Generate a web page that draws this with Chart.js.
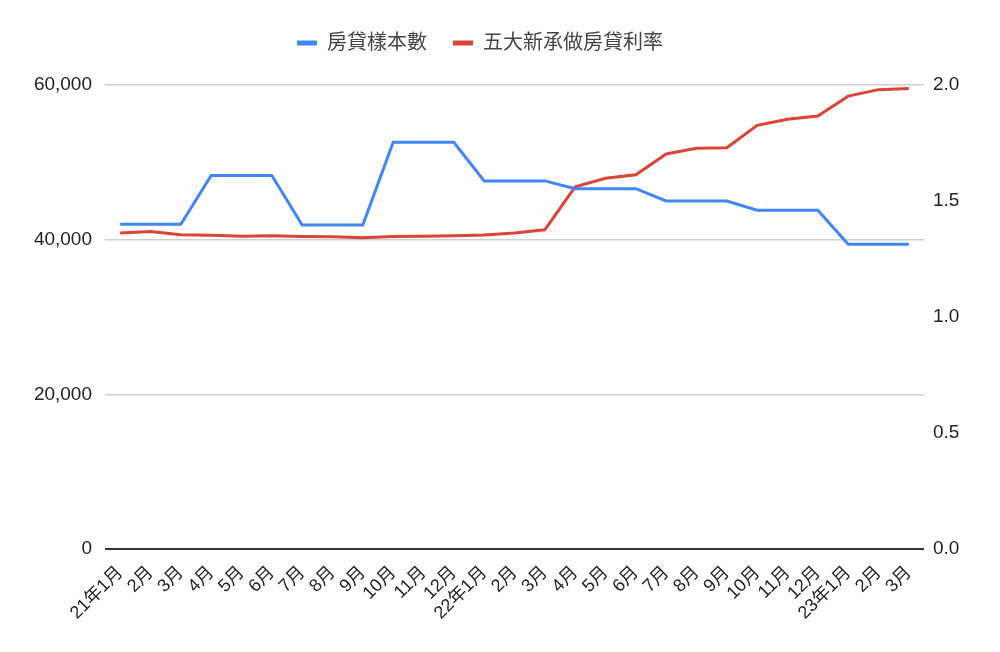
<!DOCTYPE html>
<html>
<head>
<meta charset="utf-8">
<title>房貸樣本數 / 五大新承做房貸利率</title>
<script src="https://cdn.jsdelivr.net/npm/chart.js@4/dist/chart.umd.min.js"></script>
<style>
  html, body { margin: 0; padding: 0; background: #fff; }
  #wrap { width: 1000px; height: 652px; position: relative; }
</style>
</head>
<body>
<div id="wrap"><canvas id="mortgage-chart"></canvas></div>
<script>
// --- Données ---
const monthLabels = [
  '21年1月', '2月', '3月', '4月', '5月', '6月', '7月', '8月', '9月', '10月', '11月', '12月',
  '22年1月', '2月', '3月', '4月', '5月', '6月', '7月', '8月', '9月', '10月', '11月', '12月',
  '23年1月', '2月', '3月'
];

// 房貸樣本數 (axe de gauche)
const sampleCounts = [
  42000, 42000, 42000, 48300, 48300, 48300, 41900, 41900, 41900, 52600, 52600, 52600,
  47600, 47600, 47600, 46600, 46600, 46600, 45000, 45000, 45000, 43800, 43800, 43800,
  39400, 39400, 39400
];

// 五大新承做房貸利率 (axe de droite)
const mortgageRates = [
  1.362, 1.368, 1.355, 1.352, 1.348, 1.350, 1.347, 1.346, 1.342, 1.347, 1.348, 1.350,
  1.353, 1.362, 1.376, 1.561, 1.598, 1.613, 1.703, 1.727, 1.730, 1.826, 1.852, 1.866,
  1.952, 1.980, 1.985
];

const leftTicks = [0, 20000, 40000, 60000];
const rightTicks = [0, 0.5, 1.0, 1.5, 2.0];

const FONT = '"Liberation Sans", "Noto Sans CJK TC", sans-serif';
Chart.defaults.font.family = FONT;

// Petit plugin : espace sous la légende + décalage horizontal
const legendSpacer = {
  id: 'legendSpacer',
  beforeInit(chart) {
    const originalFit = chart.legend.fit;
    chart.legend.fit = function fit() {
      originalFit.bind(chart.legend)();
      this.height += 22;
    };
  },
  afterLayout(chart) {
    chart.legend.left -= 20;
    chart.legend.right -= 20;
  }
};

const ctx = document.getElementById('mortgage-chart').getContext('2d');
const mortgageChart = new Chart(ctx, {
  type: 'line',
  data: {
    labels: monthLabels,
    datasets: [
      {
        label: '房貸樣本數',
        data: sampleCounts,
        yAxisID: 'yLeft',
        borderColor: '#4285f4',
        backgroundColor: '#4285f4',
        borderWidth: 3,
        pointRadius: 0,
        tension: 0
      },
      {
        label: '五大新承做房貸利率',
        data: mortgageRates,
        yAxisID: 'yRight',
        borderColor: '#db4437',
        backgroundColor: '#db4437',
        borderWidth: 3,
        pointRadius: 0,
        tension: 0
      }
    ]
  },
  options: {
    responsive: true,
    maintainAspectRatio: false,
    animation: false,
    layout: { padding: { top: 7, left: 0, right: 0, bottom: 0 } },
    plugins: {
      legend: {
        display: true,
        position: 'top',
        labels: {
          color: '#444',
          font: { size: 20 },
          boxWidth: 20,
          boxHeight: 5,
          padding: 26,
          generateLabels(chart) {
            const items = Chart.defaults.plugins.legend.labels.generateLabels(chart);
            items.forEach(item => { item.lineWidth = 0; });
            return items;
          }
        }
      },
      tooltip: { enabled: false }
    },
    scales: {
      x: {
        offset: true,
        grid: { display: false },
        border: { display: false },
        ticks: {
          color: '#222',
          font: { size: 18 },
          autoSkip: false,
          minRotation: 45,
          maxRotation: 45,
          padding: 5
        },
        afterFit(scale) { scale.height = 103; }
      },
      yLeft: {
        position: 'left',
        min: 0,
        max: 60000,
        afterBuildTicks(axis) { axis.ticks = leftTicks.map(v => ({ value: v })); },
        grid: {
          drawTicks: false,
          color: c => (c.tick && c.tick.value === 0 ? '#333' : '#d0d0d0'),
          lineWidth: c => (c.tick && c.tick.value === 0 ? 2 : 1.5)
        },
        border: { display: false },
        ticks: {
          color: '#222',
          font: { size: 19 },
          padding: 13,
          callback: v => Number(v).toLocaleString('en-US')
        },
        afterFit(scale) { scale.width = 105; }
      },
      yRight: {
        position: 'right',
        min: 0,
        max: 2,
        afterBuildTicks(axis) { axis.ticks = rightTicks.map(v => ({ value: v })); },
        grid: { display: false, drawTicks: false },
        border: { display: false },
        ticks: {
          color: '#222',
          font: { size: 19 },
          padding: 9,
          callback: v => Number(v).toFixed(1)
        },
        afterFit(scale) { scale.width = 76; }
      }
    }
  },
  plugins: [legendSpacer]
});
</script>
</body>
</html>
